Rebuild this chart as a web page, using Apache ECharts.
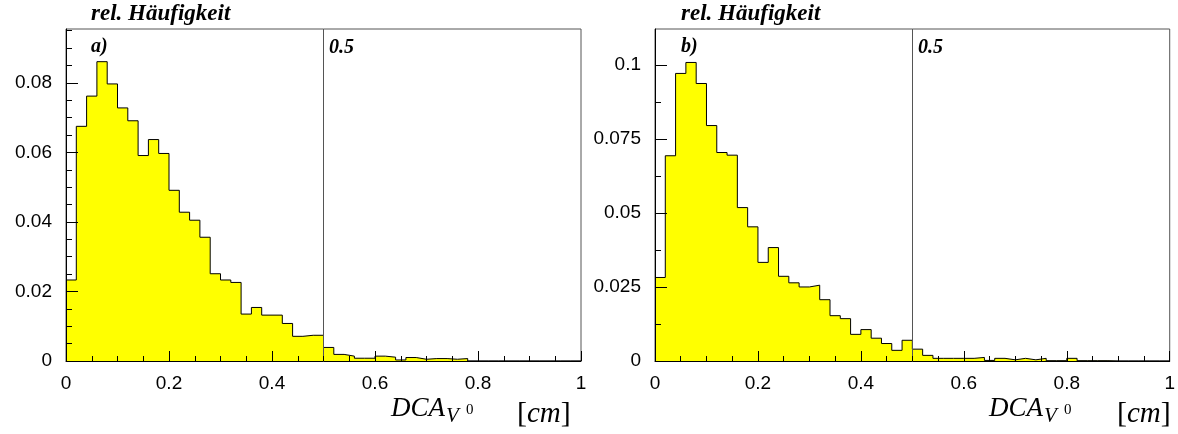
<!DOCTYPE html>
<html>
<head>
<meta charset="utf-8">
<script src="https://cdn.jsdelivr.net/npm/echarts@6/dist/echarts.min.js"></script>
<style>
html,body{margin:0;padding:0;background:#fff;}
#chart{width:1178px;height:434px;}
</style>
</head>
<body>
<div id="chart"></div>
<script>
// ---- data ----
const binWidth = 0.02;
const relA = [0.0233,0.0675,0.0762,0.0861,0.0797,0.0728,0.0691,0.0591,0.0637,0.0597,
              0.0491,0.0428,0.0405,0.0356,0.0251,0.0233,0.0226,0.0135,0.0154,0.0132,
              0.0132,0.0108,0.0071,0.0074,0.0074,0.0039,0.0019,0.0014,0.0008,0.0008,
              0.0014,0.0011,0.0003,0.0010,0.0005,0.0007,0.0007,0.0005,0.0007,0,
              0,0,0,0,0,0,0,0,0,0];
const relB = [0.0282,0.0693,0.0971,0.1008,0.0937,0.0795,0.0704,0.0695,0.0518,0.0453,
              0.0333,0.0383,0.0286,0.0264,0.0250,0.0256,0.0207,0.0153,0.0143,0.0090,
              0.0106,0.0077,0.0059,0.0036,0.0070,0.0040,0.0019,0.0009,0.0009,0.0009,
              0.0009,0.0012,0.0002,0.0009,0.0004,0.0009,0.0004,0.0009,0.0001,0.0001,
              0.0009,0.0001,0.0001,0.0001,0,0,0,0,0,0];
const yTicksA = [0,0.02,0.04,0.06,0.08];
const yMinorA = [0,0.005,0.01,0.015,0.02,0.025,0.03,0.035,0.04,0.045,0.05,0.055,0.06,0.065,0.07,0.075,0.08,0.085,0.09,0.095];
const yTicksB = [0,0.025,0.05,0.075,0.1];
const yMinorB = [0,0.0125,0.025,0.0375,0.05,0.0625,0.075,0.0875,0.1];
const yMaxA = 0.0955;
const yMaxB = 0.1121;
const cutValue = 0.5;
const yTitle = 'rel. Häufigkeit';
const panelLabels = ['a)', 'b)'];
const cutLabel = '0.5';

function stepData(vals){
  const d = vals.map((v,i)=>[+(i*binWidth).toFixed(4), v]);
  d.push([+(vals.length*binWidth).toFixed(4), vals[vals.length-1]]);
  return d;
}

const chart = echarts.init(document.getElementById('chart'), null, {renderer:'canvas'});
const sansFont = 'Liberation Sans';
const serifFont = 'Liberation Serif';

function xAxisCfg(gi){
  return {
    gridIndex: gi, type:'value', min:0, max:1, interval:0.2, z:10,
    axisLine:{show:true, onZero:false, lineStyle:{color:'#000', width:1}},
    axisTick:{show:true, inside:true, length:10, lineStyle:{color:'#000'}},
    minorTick:{show:true, splitNumber:4, length:5, lineStyle:{color:'#000'}},
    axisLabel:{color:'#000', fontSize:19, fontFamily:sansFont, margin:13,
      formatter:v=>String(parseFloat(v.toFixed(2)))},
    splitLine:{show:false}, minorSplitLine:{show:false}
  };
}
function yMajor(gi,max,ticks){
  return {
    gridIndex: gi, type:'value', min:0, max:max, position:'left', z:10,
    axisLine:{show:true, onZero:false, lineStyle:{color:'#000', width:1}},
    axisTick:{show:true, inside:true, length:12, customValues:ticks, lineStyle:{color:'#000'}},
    axisLabel:{color:'#000', fontSize:19, fontFamily:sansFont, margin:14, customValues:ticks,
      formatter:v=>String(v)},
    splitLine:{show:false}
  };
}
function yMinor(gi,max,ticks){
  return {
    gridIndex: gi, type:'value', min:0, max:max, position:'left', z:10,
    axisLine:{show:false},
    axisTick:{show:true, inside:true, length:6, customValues:ticks, lineStyle:{color:'#000'}},
    axisLabel:{show:false},
    splitLine:{show:false}
  };
}
function histSeries(gi, yi, vals){
  return {
    type:'line', xAxisIndex:gi, yAxisIndex:yi, step:'end', symbol:'none',
    data: stepData(vals),
    lineStyle:{color:'#000', width:1},
    areaStyle:{color:'#ffff00', opacity:1},
    z:3,
    markLine:{
      silent:true, symbol:['none','none'], label:{show:false},
      lineStyle:{color:'#555', width:1, type:'solid'},
      data:[{xAxis:cutValue}], animation:false
    }
  };
}

function txt(x,y,text,font,size,weight,style){
  return {type:'text', x:x, y:y, z:100,
    style:{text:text, fontFamily:font, fontSize:size, fontWeight:weight||'normal', fontStyle:style||'normal',
      fill:'#000', align:'left', verticalAlign:'middle'}};
}
function axisTitle(x0, xsub, xsup, xcm){
  return [
    txt(x0, 409, 'DCA', serifFont, 27, 'normal', 'italic'),
    txt(xsub, 416, 'V', serifFont, 21, 'normal', 'italic'),
    txt(xsup, 410, '0', serifFont, 15, 'normal', 'normal'),
    {type:'text', x:xcm, y:414, z:100,
      style:{text:'{n|[}{i|cm}{n|]}', align:'left', verticalAlign:'middle',
        rich:{n:{fontFamily:serifFont, fontSize:30, fill:'#000'},
              i:{fontFamily:serifFont, fontSize:29, fontStyle:'italic', fill:'#000'}}}}
  ];
}

const option = {
  animation:false,
  backgroundColor:'#fff',
  grid:[
    {left:66, right:597, top:29, bottom:73, show:true, borderColor:'#555', borderWidth:1, backgroundColor:'transparent'},
    {left:655, right:8, top:29, bottom:73, show:true, borderColor:'#555', borderWidth:1, backgroundColor:'transparent'}
  ],
  xAxis:[xAxisCfg(0), xAxisCfg(1)],
  yAxis:[yMajor(0,yMaxA,yTicksA), yMinor(0,yMaxA,yMinorA), yMajor(1,yMaxB,yTicksB), yMinor(1,yMaxB,yMinorB)],
  series:[histSeries(0,0,relA), histSeries(1,2,relB)],
  graphic:[
    txt(91, 14, yTitle, serifFont, 23, 'bold', 'italic'),
    txt(681, 14, yTitle, serifFont, 23, 'bold', 'italic'),
    txt(91, 47, panelLabels[0], serifFont, 20, 'bold', 'italic'),
    txt(681, 47, panelLabels[1], serifFont, 20, 'bold', 'italic'),
    txt(329, 48, cutLabel, serifFont, 20, 'bold', 'italic'),
    txt(918, 48, cutLabel, serifFont, 20, 'bold', 'italic'),
    ...axisTitle(391, 446, 466, 517),
    ...axisTitle(989, 1044, 1064, 1117)
  ]
};
chart.setOption(option);
</script>
</body>
</html>
